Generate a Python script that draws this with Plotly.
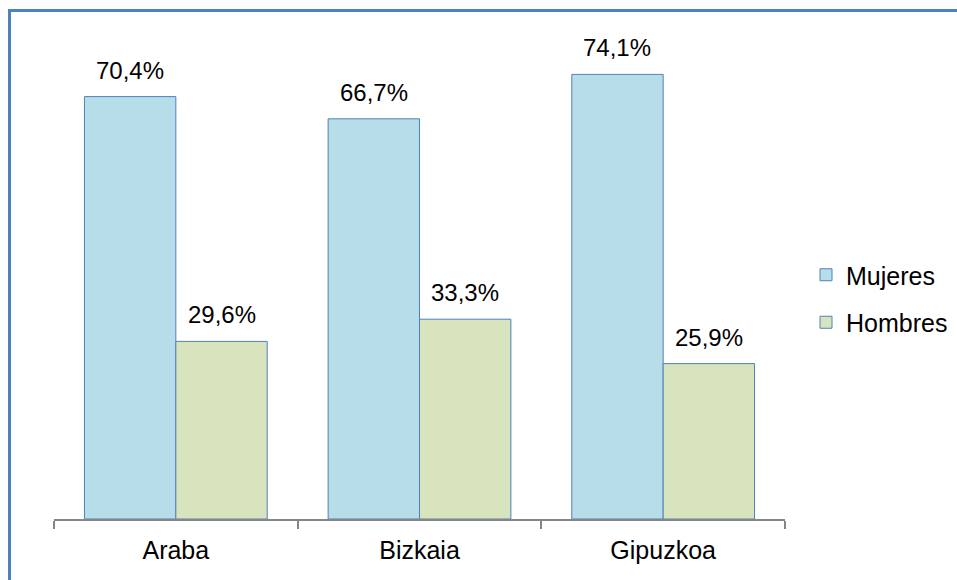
import plotly.graph_objects as go

categories = ["Araba", "Bizkaia", "Gipuzkoa"]
mujeres = [70.4, 66.7, 74.1]
hombres = [29.6, 33.3, 25.9]
series_names = ["Mujeres", "Hombres"]

FONT = "Liberation Sans, Arial, sans-serif"
L, R, T, B = 54, 172, 39, 61
W, H = 957, 580
plot_w = W - L - R
plot_h = H - T - B

def fmt(v):
    return f"{v:.1f}".replace(".", ",") + "%"

fig = go.Figure()
fig.add_trace(go.Bar(x=categories, y=mujeres, name=series_names[0],
                     marker=dict(color="#B7DEE8", line=dict(color="#4F81BD", width=1)),
                     legendgroup="a"))
fig.add_trace(go.Bar(x=categories, y=hombres, name=series_names[1],
                     marker=dict(color="#D7E4BD", line=dict(color="#4F81BD", width=1)),
                     legendgroup="b"))

bar_px = plot_w / 3 * (1 - 0.25) / 2
annotations = []
for vals, sh in ((mujeres, -bar_px / 2), (hombres, bar_px / 2)):
    for c, v in zip(categories, vals):
        annotations.append(dict(x=c, y=v, xref="x", yref="y", text=fmt(v), showarrow=False,
                                xshift=sh, yshift=11, yanchor="bottom",
                                font=dict(family=FONT, size=24, color="#000000")))

px2x = lambda p: (p - L) / plot_w
px2y = lambda p: (H - B - p) / plot_h

fig.update_layout(
    width=W, height=H,
    margin=dict(l=L, r=R, t=T, b=B, autoexpand=False),
    paper_bgcolor="white", plot_bgcolor="white",
    barmode="group", bargap=0.25, bargroupgap=0,
    font=dict(family=FONT, size=25, color="#000000"),
    xaxis=dict(showline=True, linecolor="#868686", linewidth=1.5, ticks="outside",
               tickson="boundaries", ticklen=8, tickcolor="#868686", tickwidth=1.5,
               tickfont=dict(size=25), showgrid=False, ticklabelstandoff=8),
    yaxis=dict(range=[0, 80], visible=False, showgrid=False),
    legend=dict(x=px2x(806), y=px2y(252), xanchor="left", yanchor="top",
                font=dict(size=25), traceorder="grouped", tracegroupgap=12,
                itemwidth=30),
    showlegend=True,
    annotations=annotations,
    shapes=[dict(type="rect", xref="paper", yref="paper",
                 x0=px2x(9.5), x1=px2x(1100), y0=px2y(700), y1=px2y(10.5),
                 line=dict(color="#4F81BD", width=3), fillcolor="rgba(0,0,0,0)", layer="below")],
)

fig.write_html("out.html", config={"displayModeBar": False},
               post_script="document.body.style.margin='0';document.body.style.overflow='hidden';")
